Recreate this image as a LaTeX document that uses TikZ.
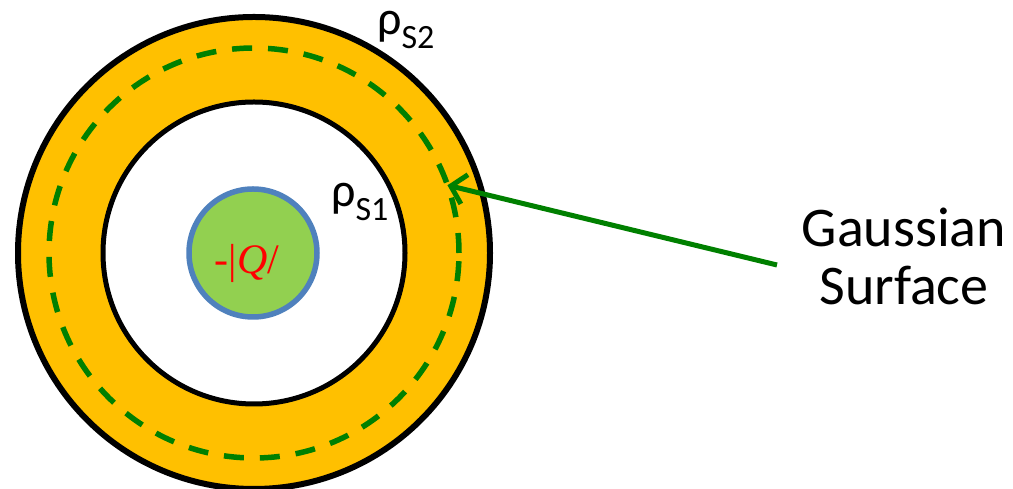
\documentclass[tikz,border=0pt]{standalone}
\usepackage{fontspec}
\setmainfont{Carlito}
\newfontfamily\tnr{Liberation Serif}
\usetikzlibrary{arrows.meta,calc}
\definecolor{ringorange}{HTML}{FFC000}
\definecolor{coregreen}{HTML}{92D050}
\definecolor{coreblue}{HTML}{4F81BD}
\definecolor{gaussgreen}{HTML}{008000}
\tikzset{
  rholabel/.style={anchor=base west, inner sep=0pt, font=\fontsize{48}{48}\selectfont},
  corecircle/.style={circle, fill=coregreen, draw=coreblue, line width=5.5pt, minimum size=128pt, inner sep=0pt},
  gaussline/.style={draw=gaussgreen, line width=5.5pt},
}
\newcommand{\rhosub}[1]{ρ\raisebox{-14pt}{\fontsize{34}{34}\selectfont #1}}
\begin{document}
\begin{tikzpicture}[x=1pt,y=1pt]
\useasboundingbox (0,0) rectangle (1013,489);
\coordinate (c) at (254,236);
% outer ring
\fill[ringorange] (c) circle (236);
\draw[black, line width=6pt] (c) circle (236);
% inner hole
\filldraw[fill=white, draw=black, line width=5pt] (c) circle (151);
% gaussian surface
\draw[gaussline, dash pattern=on 20pt off 16pt] (c) circle (205);
\coordinate (tip) at ($(c)+(19.3:205)$);
% core charge
\node[corecircle] (core) at (253,236) {};
\node[text=red, font=\tnr\fontsize{42}{42}\selectfont, inner sep=0pt] (qt) at (247,226) {-|\textit{Q}/};
% labels
\node[rholabel] (rs2) at (377,454) {\rhosub{S2}};
\node[rholabel] (rs1) at (331,282) {\rhosub{S1}};
\node[align=center, font=\fontsize{56}{58}\selectfont, inner sep=0pt] (gauss) at (904,233) {Gaussian\\Surface};
\coordinate (as) at (777,224);
\draw[gaussline, line width=5pt, -{Straight Barb[length=14pt, width=30pt]}] (as) -- (tip);
\end{tikzpicture}
\end{document}
